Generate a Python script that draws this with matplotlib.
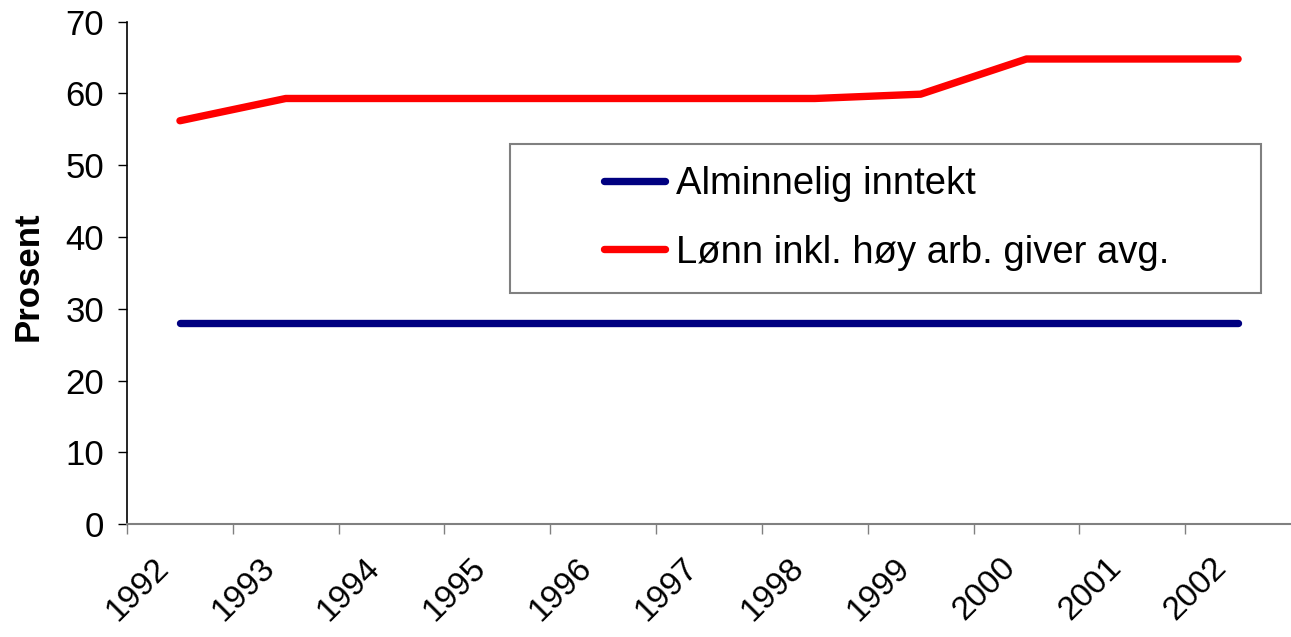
import matplotlib
matplotlib.use("Agg")
import matplotlib.pyplot as plt
import matplotlib.transforms as mtransforms
from matplotlib.patches import Rectangle

plt.rcParams['font.family'] = ['Liberation Sans', 'DejaVu Sans']

# Data
years = ['1992', '1993', '1994', '1995', '1996', '1997',
         '1998', '1999', '2000', '2001', '2002']
alminnelig = [28, 28, 28, 28, 28, 28, 28, 28, 28, 28, 28]
lonn = [56.2, 59.3, 59.3, 59.3, 59.3, 59.3, 59.3, 59.9, 64.8, 64.8, 64.8]
labels = ['Alminnelig inntekt', 'Lønn inkl. høy arb. giver avg.']

fig = plt.figure(figsize=(12.91, 6.37), dpi=100)
ax = fig.add_axes([0.0984, 0.177, 0.9016, 0.789])

x = list(range(len(years)))
ax.plot(x, alminnelig, color='#000080', lw=5.3, solid_capstyle='round',
        solid_joinstyle='round', label=labels[0])
ax.plot(x, lonn, color='#FF0000', lw=5.3, solid_capstyle='round',
        solid_joinstyle='round', label=labels[1])

ax.set_xlim(-0.5, len(years) - 0.5)
ax.set_ylim(0, 70)
ax.set_yticks(range(0, 71, 10))

# x ticks between categories, labels at category centres
ax.set_xticks([i - 0.5 for i in x])
ax.set_xticklabels([])
ax.set_xticks(x, minor=True)
ax.set_xticklabels(years, minor=True, rotation=45, ha='right',
                   rotation_mode='anchor', va='center', fontsize=24)
ax.tick_params(axis='x', which='major', length=7, width=1, color='#808080')
ax.tick_params(axis='x', which='minor', length=0, pad=28)
offset = mtransforms.ScaledTranslation(-16 / 100, 0, fig.dpi_scale_trans)
for lab in ax.get_xticklabels(minor=True):
    lab.set_transform(lab.get_transform() + offset)

ax.tick_params(axis='y', length=6.5, width=1, color='black',
               labelsize=25, pad=10)

for s in ['top', 'right']:
    ax.spines[s].set_visible(False)
ax.spines['left'].set_color('black')
ax.spines['left'].set_linewidth(1.2)
ax.spines['bottom'].set_color('#808080')
ax.spines['bottom'].set_linewidth(1.5)

ax.set_ylabel('Prosent', fontsize=25, fontweight='bold', va='center')
ax.yaxis.set_label_coords(-0.085, 0.494)

# legend box
ax.add_patch(Rectangle((0.3288, 0.4602), 0.6454, 0.2965, transform=ax.transAxes,
                       fill=False, edgecolor='#808080', lw=1.5, zorder=3))
ax.legend(loc='center', bbox_to_anchor=(0.6525, 0.6085), frameon=False,
          fontsize=27.5, handlelength=1.6, handletextpad=0.28,
          labelspacing=0.85, borderpad=0)

fig.savefig('out.png', dpi=100)
